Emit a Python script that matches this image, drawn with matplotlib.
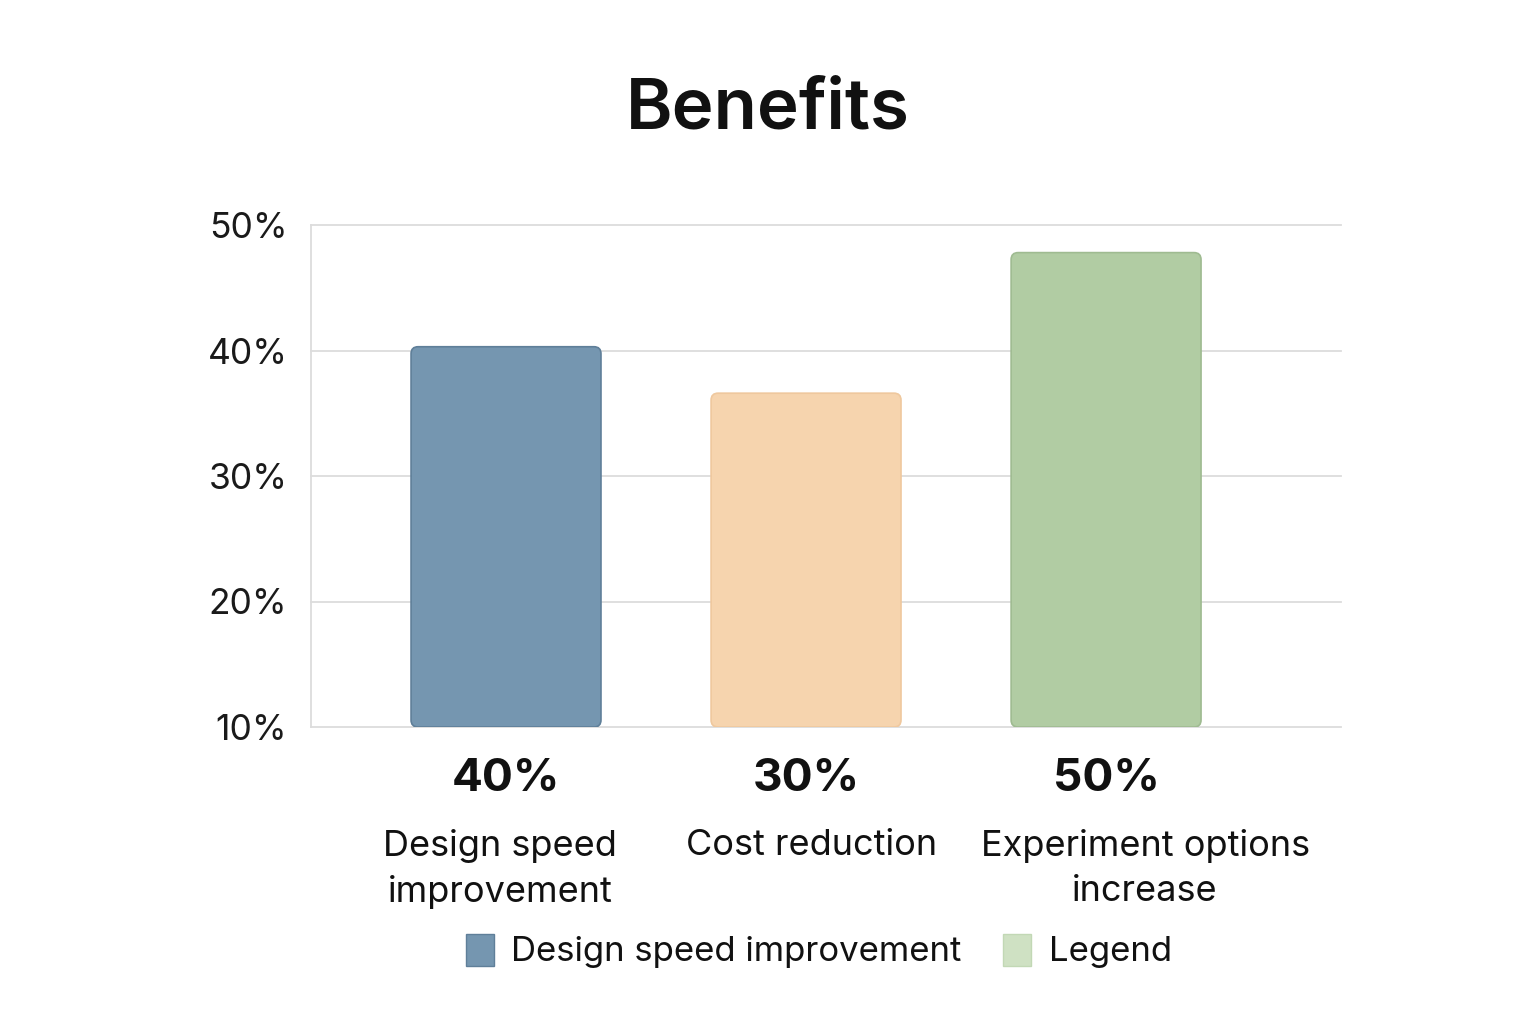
import matplotlib
matplotlib.use("Agg")
import matplotlib.pyplot as plt
from matplotlib.patches import FancyBboxPatch, Patch
from matplotlib import transforms

categories = ["Design speed\nimprovement", "Cost reduction", "Experiment options\nincrease"]
bar_heights = [40.3, 36.6, 47.8]
value_labels = ["40%", "30%", "50%"]
yticks = [10, 20, 30, 40, 50]
ytick_labels = ["10%", "20%", "30%", "40%", "50%"]
legend_labels = ["Design speed improvement", "Legend"]

bar_colors = ["#7596b0", "#f6d4ae", "#b1cca3"]
edge_colors = ["#5f7f99", "#efc89e", "#9fbb91"]
legend_colors = ["#7596b0", "#cfe1c3"]
legend_edges = ["#5f7f99", "#c2d8b5"]

plt.rcParams['font.family'] = ['Inter', 'DejaVu Sans']

fig = plt.figure(figsize=(15.36, 10.24), dpi=100)
ax = fig.add_axes([311/1536, 1-727/1024, (1341-311)/1536, (727-225)/1024])

x = list(range(len(categories)))
width = 0.633
bars = ax.bar(x, [h - 10 for h in bar_heights], bottom=10, width=width, color=bar_colors)
ax.set_xlim(-0.65, 2.783)
ax.set_ylim(10, 50)
px_x = (1341-311) / (2.783 + 0.65)
px_y = (727-225) / 40.0
for b, fc, ec in zip(bars, bar_colors, edge_colors):
    b.set_visible(False)
    p = FancyBboxPatch((b.get_x(), b.get_y()), b.get_width(), b.get_height(),
                       boxstyle=f"round,pad=0,rounding_size={7/px_x}",
                       mutation_aspect=px_x/px_y,
                       facecolor=fc, edgecolor=ec, linewidth=1.2, zorder=3)
    ax.add_patch(p)

ax.set_yticks(yticks)
ax.set_yticklabels(ytick_labels, fontsize=25.5, color="#1a1a1a")
ax.tick_params(axis='y', length=0, pad=17)
ax.set_xticks([])
ax.grid(axis='y', color="#dcdcdc", linewidth=1.3, zorder=0)
ax.set_axisbelow(True)
for s in ["top", "right", "bottom"]:
    ax.spines[s].set_visible(False)
ax.spines["left"].set_color("#dcdcdc")
ax.spines["left"].set_linewidth(1.3)
for gl in ax.get_ygridlines():
    gl.set_clip_on(False)

trans = transforms.blended_transform_factory(ax.transData, ax.transAxes)
cat_offsets = [-0.02, 0.02, 0.13]
for i, (vl, cat) in enumerate(zip(value_labels, categories)):
    ax.text(i, (727-779)/502, vl, transform=trans, ha="center", va="center",
            fontsize=33, fontweight="bold", color="#111111")
    ax.text(i + cat_offsets[i], (727-829)/502, cat, transform=trans, ha="center", va="top",
            fontsize=26, color="#111111", linespacing=1.45)

fig.text(0.5, 1-110/1024, "Benefits", ha="center", va="center",
         fontsize=51, fontweight="semibold", color="#111111")

handles = [Patch(facecolor=c, edgecolor=e, linewidth=1.0) for c, e in zip(legend_colors, legend_edges)]
fig.legend(handles, legend_labels, loc="center", bbox_to_anchor=(819/1536, 1-951/1024),
           ncol=2, frameon=False, fontsize=25, handlelength=0.8, handleheight=1.05,
           handletextpad=0.5, columnspacing=1.2, labelcolor="#111111")

fig.savefig("out.png", dpi=100, facecolor="white")
